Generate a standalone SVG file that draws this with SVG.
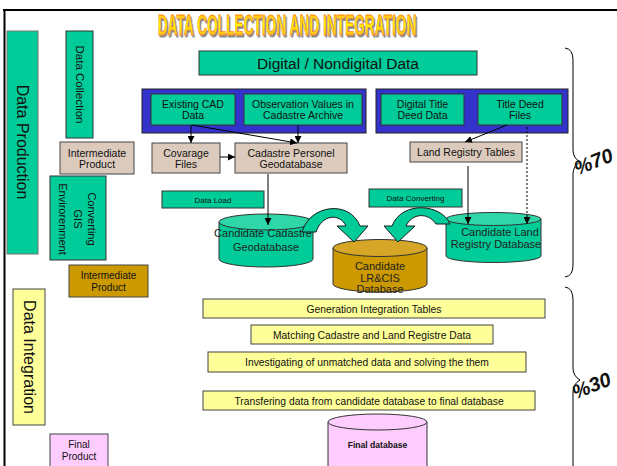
<svg xmlns="http://www.w3.org/2000/svg" width="617" height="466" viewBox="0 0 617 466">
<defs>
<linearGradient id="tg" x1="0" y1="0" x2="0" y2="1">
<stop offset="0" stop-color="#ff9933"/>
<stop offset="0.5" stop-color="#ffff00"/>
<stop offset="1" stop-color="#ff9933"/>
</linearGradient>
<filter id="sh" x="-10%" y="-30%" width="120%" height="160%">
<feDropShadow dx="3" dy="2" stdDeviation="0.4" flood-color="#888" flood-opacity="1"/>
</filter>
<marker id="ah" viewBox="0 0 10 10" refX="10" refY="5" markerWidth="7" markerHeight="7" markerUnits="userSpaceOnUse" orient="auto">
<path d="M0,0 L10,5 L0,10 Z" fill="#000"/>
</marker>
</defs>
<style>
text{font-family:"Liberation Sans",Arial,sans-serif;fill:#111;}
.g{fill:#00cc99;stroke:#333;stroke-width:1;}
.b{fill:#dccbbd;stroke:#444;stroke-width:1;}
.bl{fill:#3333cc;stroke:#222;stroke-width:1;}
.y{fill:#ffff99;stroke:#444;stroke-width:1;}
.au{fill:#cc9900;stroke:#444;stroke-width:1;}
.pk{fill:#ffccff;stroke:#444;stroke-width:1;}
.t10{font-size:10.5px;text-anchor:middle;}
.t8{font-size:8px;text-anchor:middle;}
.ty{font-size:10.3px;text-anchor:middle;}
.tc{font-size:11px;text-anchor:middle;fill:#222;}
.cn{stroke:#000;stroke-width:1;fill:none;}
.br{stroke:#000;stroke-width:1;fill:none;}
.ca{fill:#00cc99;stroke:#1a1a1a;stroke-width:1;}
</style>
<rect width="617" height="466" fill="#fff"/>
<g id="frame">
<line x1="3" y1="10" x2="617" y2="10" stroke="#000" stroke-width="2"/>
<line x1="4.5" y1="9" x2="4.5" y2="466" stroke="#000" stroke-width="2"/>
</g>
<g id="title">
<text transform="translate(287,35) scale(0.457,1)" x="0" y="0" font-size="30" font-weight="bold" text-anchor="middle" filter="url(#sh)" style="fill:url(#tg);stroke:#ff8800;stroke-width:0.8">DATA COLLECTION AND INTEGRATION</text>
</g>
<g id="data-production">
<rect class="g" x="7" y="31" width="31" height="223" style="stroke:#777"/>
<text transform="translate(22,142) rotate(90)" x="0" y="5.5" font-size="16" text-anchor="middle">Data Production</text>
</g>
<g id="data-collection">
<rect class="g" x="66" y="31" width="27" height="107"/>
<text transform="translate(79.5,84.5) rotate(90)" x="0" y="4" font-size="11.5" text-anchor="middle">Data Collection</text>
</g>
<g id="intermediate-1">
<rect class="b" x="60" y="142" width="74" height="32"/>
<text class="t10" x="97" y="156.5">Intermediate</text>
<text class="t10" x="97" y="168">Product</text>
</g>
<g id="converting-gis">
<rect class="g" x="50" y="176" width="56" height="84"/>
<text transform="translate(92,219) rotate(90)" x="0" y="4" font-size="11" text-anchor="middle">Converting</text>
<text transform="translate(77.5,219) rotate(90)" x="0" y="4" font-size="11" text-anchor="middle">GIS</text>
<text transform="translate(63,219) rotate(90)" x="0" y="4" font-size="11" text-anchor="middle">Envirorenment</text>
</g>
<g id="intermediate-2">
<rect class="au" x="69" y="265" width="79" height="32"/>
<text class="t10" x="108.5" y="279" style="font-size:10px">Intermediate</text>
<text class="t10" x="108.5" y="290.5" style="font-size:10px">Product</text>
</g>
<g id="data-integration">
<rect class="y" x="13" y="289" width="32" height="136"/>
<text transform="translate(29,357) rotate(90)" x="0" y="5.5" font-size="16" text-anchor="middle">Data Integration</text>
</g>
<g id="final-product">
<rect class="pk" x="50" y="434" width="58" height="34"/>
<text class="t10" x="79" y="448" style="font-size:10px">Final</text>
<text class="t10" x="79" y="460" style="font-size:10px">Product</text>
</g>
<g id="digital-nondigital">
<rect class="g" x="199" y="51" width="278" height="24"/>
<text x="338" y="69" font-size="15.5" text-anchor="middle">Digital / Nondigital Data</text>
</g>
<g id="container-cadastre">
<rect class="bl" x="142" y="89" width="224" height="44"/>
</g>
<g id="existing-cad">
<rect class="g" x="151" y="94" width="84" height="31"/>
<text class="t10" x="193" y="107.5">Existing CAD</text>
<text class="t10" x="193" y="119">Data</text>
</g>
<g id="observation-values">
<rect class="g" x="244" y="94" width="118" height="31"/>
<text class="t10" x="303" y="107.5">Observation Values in</text>
<text class="t10" x="303" y="119">Cadastre Archive</text>
</g>
<g id="container-title">
<rect class="bl" x="376" y="89" width="192" height="44"/>
</g>
<g id="digital-title-deed">
<rect class="g" x="381" y="94" width="83" height="31"/>
<text class="t10" x="422.5" y="107.5">Digital Title</text>
<text class="t10" x="422.5" y="119">Deed Data</text>
</g>
<g id="title-deed-files">
<rect class="g" x="478" y="94" width="84" height="31"/>
<text class="t10" x="520" y="107.5">Title Deed</text>
<text class="t10" x="520" y="119">Files</text>
</g>
<g id="covarage-files">
<rect class="b" x="152" y="143" width="68" height="30"/>
<text class="t10" x="186" y="156.5">Covarage</text>
<text class="t10" x="186" y="168">Files</text>
</g>
<g id="cadastre-personel">
<rect class="b" x="235" y="143" width="112" height="30"/>
<text class="t10" x="291" y="156.5">Cadastre Personel</text>
<text class="t10" x="291" y="168">Geodatabase</text>
</g>
<g id="land-registry-tables">
<rect class="b" x="410" y="142" width="112" height="20"/>
<text class="t10" x="466" y="156">Land Registry Tables</text>
</g>
<g id="data-load">
<rect class="g" x="162" y="191" width="102" height="17"/>
<text class="t8" x="213" y="202.5">Data Load</text>
</g>
<g id="data-converting">
<rect class="g" x="369" y="189" width="93" height="18"/>
<text class="t8" x="415.5" y="200.5">Data Converting</text>
</g>
<g id="candidate-cadastre">
<path d="M219,222 L219,259 A47,8 0 0 0 313,259 L313,222 Z" fill="#00cc99" stroke="#333"/>
<ellipse cx="266" cy="222" rx="47" ry="8" fill="#2fd6a8" stroke="#333"/>
<text class="tc" x="263" y="237">Candidate Cadastre</text>
<text class="tc" x="266" y="251">Geodatabase</text>
</g>
<g id="candidate-land">
<path d="M446,219 L446,256 A47.5,6.5 0 0 0 541,256 L541,219 Z" fill="#00cc99" stroke="#333"/>
<ellipse cx="493.5" cy="219" rx="47.5" ry="6.5" fill="#2fd6a8" stroke="#333"/>
<text class="tc" x="500" y="236">Candidate Land</text>
<text class="tc" x="496" y="248">Registry Database</text>
</g>
<g id="candidate-lrcis">
<path d="M333,248 L333,284 A47,8 0 0 0 427,284 L427,248 Z" fill="#cc9900" stroke="#333"/>
<ellipse cx="380" cy="248" rx="47" ry="8.5" fill="#d6a627" stroke="#333"/>
<text class="tc" x="380" y="270">Candidate</text>
<text class="tc" x="380" y="281.5">LR&amp;CIS</text>
<text class="tc" x="380" y="293">Database</text>
</g>
<g id="generation-integration">
<rect class="y" x="203" y="299" width="342" height="19"/>
<text class="ty" x="374" y="312.5">Generation Integration Tables</text>
</g>
<g id="matching">
<rect class="y" x="251" y="325" width="242" height="19"/>
<text class="ty" x="372" y="338.5">Matching Cadastre and Land Registre Data</text>
</g>
<g id="investigating">
<rect class="y" x="208" y="352" width="318" height="20"/>
<text class="ty" x="367" y="366">Investigating of unmatched data and solving the them</text>
</g>
<g id="transfering">
<rect class="y" x="203" y="391" width="332" height="19"/>
<text class="ty" x="369" y="404.5">Transfering data from candidate database to final database</text>
</g>
<g id="final-database">
<path d="M328,422 L328,470 L427,470 L427,422 Z" fill="#ffccff" stroke="#333"/>
<ellipse cx="377.5" cy="422" rx="49.5" ry="8" fill="#ffccff" stroke="#333"/>
<text x="377.5" y="448" font-size="8.6" font-weight="bold" text-anchor="middle">Final database</text>
</g>
<g id="connectors">
<line class="cn" x1="191" y1="125" x2="191" y2="143" marker-end="url(#ah)"/>
<line class="cn" x1="192" y1="125" x2="297" y2="143" marker-end="url(#ah)"/>
<line class="cn" x1="298" y1="125" x2="298" y2="143" marker-end="url(#ah)"/>
<line class="cn" x1="220" y1="157" x2="235" y2="157" marker-end="url(#ah)"/>
<line class="cn" x1="507" y1="125" x2="465" y2="142" marker-end="url(#ah)"/>
<line class="cn" x1="268" y1="174" x2="268" y2="225" marker-end="url(#ah)"/>
<line class="cn" x1="468" y1="166" x2="468" y2="224" marker-end="url(#ah)"/>
<line class="cn" x1="527" y1="127" x2="527" y2="224" stroke-dasharray="2,2" marker-end="url(#ah)"/>
<path class="ca" d="M302,232 C310,204 350,200 360,226 L368,226 L354,242 L337,226 L346,226 C340,213 322,214 316,232 Z"/>
<path class="ca" d="M450,224 C442,204 402,200 392,226 L384,226 L398,242 L415,226 L406,226 C412,213 428,212 436,224 Z"/>
</g>
<g id="braces">
<path class="br" d="M565,48 Q573,49 573,60 L573,150 Q573,158 580,162 Q573,166 573,174 L573,265 Q573,276 565,277"/>
<path class="br" d="M565,287 Q573,288 573,300 L573,368 Q573,376 580,380 Q573,384 573,392 L573,466"/>
<text transform="translate(596,168) rotate(-22)" x="0" y="0" font-size="20" font-weight="bold" font-style="italic" text-anchor="middle">%70</text>
<text transform="translate(594,392) rotate(-22)" x="0" y="0" font-size="20" font-weight="bold" font-style="italic" text-anchor="middle">%30</text>
</g>
</svg>
